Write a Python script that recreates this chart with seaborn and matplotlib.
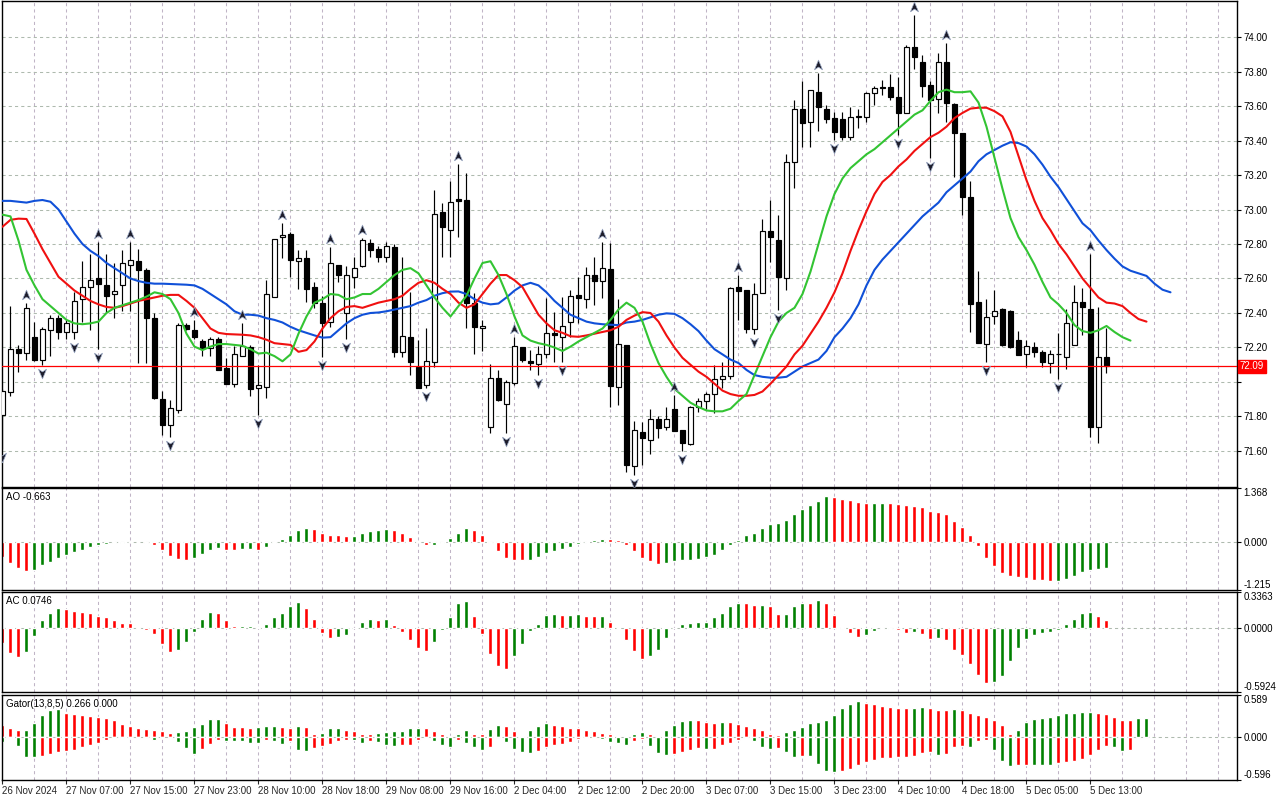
import numpy as np
import matplotlib
matplotlib.use('Agg')
import matplotlib.pyplot as plt
import matplotlib.transforms as mtransforms
from matplotlib.path import Path
import seaborn as sns


GREEN = '#008000'
RED = '#ff0000'
GRID_V = '#c0b4c6'
GRID_H = '#aebaae'
JAW_COLOR = '#1050d8'
TEETH_COLOR = '#f01010'
LIPS_COLOR = '#33c433'
FS = 7

# ── candles (H1) ─────────────────────────────────────────────
open_ = [71.81, 71.94, 72.19, 72.17, 72.26, 72.13, 72.30, 72.37, 72.29, 72.29,
         72.48, 72.55, 72.60, 72.56, 72.51, 72.56, 72.68, 72.70, 72.65, 72.37,
         71.90, 71.75, 71.84, 72.33, 72.30, 72.24, 72.195, 72.25, 72.08, 71.99,
         72.15, 72.205, 71.965, 71.97, 72.49, 72.84, 72.86, 72.70, 72.72, 72.55,
         72.46, 72.35, 72.68, 72.40, 72.61, 72.67, 72.804, 72.771, 72.727, 72.785,
         72.172, 72.259, 72.089, 71.983, 72.118, 72.988, 72.881, 73.061, 73.055, 72.46,
         72.311, 71.741, 72.021, 71.871, 71.992, 72.201, 72.122, 72.104, 72.16, 72.282,
         72.259, 72.35, 72.504, 72.481, 72.62, 72.588, 72.655, 71.969, 72.214, 71.513,
         71.708, 71.664, 71.784, 71.741, 71.842, 71.722, 71.639, 71.853, 71.892, 71.929,
         72.017, 72.037, 72.549, 72.533, 72.307, 72.518, 72.875, 72.823, 72.601, 73.273,
         73.583, 73.509, 73.679, 73.583, 73.532, 73.525, 73.418, 73.538, 73.538, 73.673,
         73.708, 73.708, 73.650, 73.561, 73.940, 73.853, 73.722, 73.639, 73.857, 73.612,
         73.442, 73.071, 72.462, 72.219, 72.383, 72.421, 72.414, 72.244, 72.161, 72.201,
         72.172, 72.108, 72.16, 72.147, 72.215, 72.462, 72.421, 71.741, 72.143]
high_ = [71.96, 72.44, 72.215, 72.46, 72.35, 72.32, 72.39, 72.39, 72.36, 72.52,
         72.70, 72.74, 72.81, 72.74, 72.69, 72.765, 72.81, 72.77, 72.66, 72.40,
         71.95, 71.895, 72.34, 72.34, 72.36, 72.25, 72.26, 72.26, 72.14, 72.21,
         72.34, 72.215, 72.10, 72.59, 72.83, 72.92, 72.87, 72.765, 72.765, 72.58,
         72.50, 72.78, 72.68, 72.67, 72.727, 72.833, 72.827, 72.788, 72.81, 72.80,
         72.723, 72.524, 72.244, 72.311, 73.113, 73.036, 73.167, 73.264, 73.21, 72.514,
         72.36, 72.104, 72.07, 72.012, 72.263, 72.205, 72.186, 72.209, 72.485, 72.408,
         72.495, 72.533, 72.61, 72.669, 72.727, 72.814, 72.804, 72.481, 72.214, 71.776,
         71.770, 71.842, 71.803, 71.857, 71.925, 71.722, 71.861, 71.905, 71.944, 72.098,
         72.118, 72.553, 72.62, 72.533, 72.572, 72.943, 73.055, 72.968, 73.322, 73.635,
         73.747, 73.693, 73.793, 73.604, 73.563, 73.563, 73.592, 73.58, 73.683, 73.716,
         73.751, 73.785, 73.770, 73.954, 74.128, 73.896, 73.745, 73.905, 73.963, 73.615,
         73.442, 73.167, 72.644, 72.479, 72.534, 72.43, 72.418, 72.296, 72.244, 72.23,
         72.186, 72.186, 72.282, 72.421, 72.563, 72.544, 72.742, 72.433, 72.311]
low_ = [71.61, 71.92, 72.06, 72.13, 72.12, 72.10, 72.15, 72.25, 72.25, 72.25,
        72.35, 72.30, 72.19, 72.40, 72.37, 72.41, 72.41, 72.11, 72.11, 71.90,
        71.69, 71.68, 71.82, 72.30, 72.25, 72.15, 72.15, 72.07, 71.99, 71.97,
        72.15, 71.92, 71.81, 71.905, 72.49, 72.72, 72.61, 72.54, 72.465, 72.43,
        72.147, 72.32, 72.58, 72.247, 72.543, 72.668, 72.727, 72.698, 72.694, 72.143,
        72.147, 72.04, 71.963, 71.963, 72.089, 72.723, 72.723, 72.839, 72.311, 72.162,
        72.182, 71.706, 71.892, 71.703, 71.983, 72.118, 72.07, 72.04, 72.137, 72.118,
        72.118, 72.263, 72.34, 72.427, 72.446, 72.485, 71.857, 71.866, 71.48, 71.461,
        71.519, 71.581, 71.673, 71.722, 71.718, 71.602, 71.635, 71.828, 71.842, 71.818,
        71.963, 72.017, 72.359, 72.282, 72.278, 72.514, 72.698, 72.417, 72.533, 73.123,
        73.360, 73.360, 73.457, 73.503, 73.403, 73.403, 73.403, 73.47, 73.509, 73.606,
        73.664, 73.635, 73.432, 73.557, 73.812, 73.650, 73.297, 73.561, 73.509, 73.190,
        72.968, 72.292, 72.224, 72.118, 72.336, 72.209, 72.195, 72.157, 72.089, 72.147,
        72.089, 72.05, 72.016, 72.074, 72.215, 72.273, 71.679, 71.648, 72.05]
close_ = [71.95, 72.19, 72.17, 72.43, 72.13, 72.31, 72.37, 72.29, 72.34, 72.47,
          72.55, 72.59, 72.57, 72.50, 72.53, 72.69, 72.71, 72.65, 72.37, 71.905,
          71.75, 71.85, 72.33, 72.31, 72.26, 72.195, 72.25, 72.07, 71.99, 72.16,
          72.21, 71.96, 71.98, 72.51, 72.83, 72.85, 72.71, 72.72, 72.54, 72.46,
          72.34, 72.69, 72.62, 72.62, 72.66, 72.823, 72.765, 72.727, 72.79, 72.172,
          72.268, 72.118, 71.967, 72.122, 72.974, 72.90, 73.042, 73.051, 72.46, 72.321,
          72.325, 72.021, 71.896, 72.002, 72.211, 72.128, 72.108, 72.16, 72.282, 72.273,
          72.327, 72.50, 72.489, 72.62, 72.588, 72.659, 71.979, 72.218, 71.519, 71.722,
          71.673, 71.784, 71.731, 71.784, 71.718, 71.648, 71.857, 71.892, 71.929, 72.017,
          72.037, 72.543, 72.528, 72.307, 72.508, 72.875, 72.839, 72.61, 73.277, 73.583,
          73.499, 73.693, 73.592, 73.523, 73.451, 73.418, 73.538, 73.540, 73.673, 73.702,
          73.702, 73.650, 73.561, 73.940, 73.882, 73.718, 73.635, 73.857, 73.619, 73.442,
          73.071, 72.452, 72.228, 72.379, 72.412, 72.215, 72.201, 72.157, 72.211, 72.172,
          72.118, 72.161, 72.165, 72.34, 72.462, 72.433, 71.741, 72.143, 72.093]

fractal_up = [3, 12, 16, 24, 30, 35, 41, 45, 57, 64, 75, 84, 92, 102, 114, 118, 136]
fractal_down = [0, 5, 9, 12, 21, 32, 40, 43, 53, 63, 67, 70, 79, 85, 94, 97,
                104, 112, 116, 123, 132]

# ── alligator lines, already shifted (jaw 8, teeth 5, lips 3) ──
jaw = [73.05, 73.05, 73.045, 73.04, 73.05, 73.055, 73.045, 73.0, 72.93, 72.86,
       72.80, 72.76, 72.73, 72.69, 72.66, 72.63, 72.60, 72.585, 72.575, 72.57,
       72.57, 72.568, 72.566, 72.564, 72.56, 72.54, 72.51, 72.48, 72.45, 72.41,
       72.39, 72.39, 72.385, 72.37, 72.36, 72.345, 72.32, 72.30, 72.285, 72.27,
       72.257, 72.26, 72.30, 72.34, 72.37, 72.39, 72.40, 72.403, 72.41, 72.42,
       72.43, 72.44, 72.46, 72.475, 72.50, 72.515, 72.524, 72.525, 72.51, 72.48,
       72.46, 72.45, 72.455, 72.49, 72.53, 72.56, 72.575, 72.56, 72.52, 72.47,
       72.43, 72.39, 72.37, 72.35, 72.34, 72.335, 72.332, 72.33, 72.345, 72.35,
       72.36, 72.375, 72.39, 72.398, 72.395, 72.37, 72.335, 72.295, 72.24, 72.19,
       72.16, 72.13, 72.11, 72.07, 72.04, 72.03, 72.025, 72.025, 72.03, 72.06,
       72.09, 72.11, 72.13, 72.18, 72.26, 72.31, 72.37, 72.45, 72.56, 72.65,
       72.71, 72.76, 72.81, 72.86, 72.91, 72.96, 73.00, 73.04, 73.10, 73.14,
       73.18, 73.22, 73.28, 73.32, 73.345, 73.37, 73.39, 73.385, 73.365, 73.32,
       73.26, 73.19, 73.13, 73.06, 72.99, 72.92, 72.88, 72.82, 72.765, 72.715,
       72.67, 72.645, 72.63, 72.615, 72.57, 72.535, 72.52]
teeth = [72.90, 72.94, 72.947, 72.945, 72.86, 72.77, 72.69, 72.61, 72.57, 72.53,
         72.50, 72.47, 72.45, 72.435, 72.43, 72.44, 72.455, 72.47, 72.48, 72.49,
         72.50, 72.505, 72.505, 72.47, 72.43, 72.37, 72.31, 72.285, 72.278, 72.276,
         72.274, 72.27, 72.26, 72.245, 72.225, 72.22, 72.215, 72.175, 72.185, 72.235,
         72.31, 72.37, 72.41, 72.435, 72.44, 72.43, 72.445, 72.46, 72.47, 72.48,
         72.50, 72.54, 72.575, 72.59, 72.575, 72.54, 72.51, 72.46, 72.43, 72.45,
         72.51, 72.57, 72.62, 72.62, 72.59, 72.55, 72.47, 72.39, 72.34, 72.30,
         72.285, 72.265, 72.262, 72.27, 72.28, 72.29, 72.30, 72.32, 72.36, 72.385,
         72.405, 72.40, 72.35, 72.27, 72.20, 72.14, 72.10, 72.06, 72.03, 71.99,
         71.95, 71.93, 71.92, 71.92, 71.925, 71.945, 71.99, 72.04, 72.09, 72.16,
         72.21, 72.28, 72.35, 72.43, 72.52, 72.63, 72.76, 72.88, 72.99, 73.09,
         73.16, 73.20, 73.25, 73.29, 73.34, 73.38, 73.42, 73.445, 73.48, 73.53,
         73.56, 73.585, 73.59, 73.59, 73.57, 73.54, 73.45, 73.31, 73.17, 73.05,
         72.95, 72.88, 72.80, 72.74, 72.67, 72.60, 72.545, 72.49, 72.46, 72.455,
         72.44, 72.40, 72.365, 72.35]
lips = [72.97, 72.96, 72.82, 72.65, 72.56, 72.48, 72.44, 72.40, 72.36, 72.34,
        72.335, 72.34, 72.35, 72.40, 72.43, 72.445, 72.46, 72.475, 72.495, 72.52,
        72.51, 72.48, 72.40, 72.28, 72.205, 72.185, 72.205, 72.22, 72.22, 72.215,
        72.21, 72.19, 72.165, 72.17, 72.15, 72.12, 72.16, 72.28, 72.38, 72.46,
        72.48, 72.51, 72.505, 72.48, 72.49, 72.51, 72.51, 72.54, 72.58, 72.62,
        72.65, 72.66, 72.63, 72.56, 72.49, 72.43, 72.38, 72.44, 72.50, 72.60,
        72.69, 72.70, 72.62, 72.51, 72.38, 72.27, 72.24, 72.225, 72.215, 72.20,
        72.18, 72.205, 72.235, 72.26, 72.285, 72.31, 72.36, 72.42, 72.46, 72.43,
        72.35, 72.22, 72.11, 72.03, 71.96, 71.92, 71.88, 71.855, 71.835, 71.83,
        71.83, 71.845, 71.89, 71.93, 72.04, 72.15, 72.26, 72.35, 72.40, 72.43,
        72.51, 72.64, 72.80, 72.96, 73.09, 73.18, 73.24, 73.28, 73.32, 73.35,
        73.39, 73.43, 73.47, 73.51, 73.55, 73.575, 73.63, 73.68, 73.695, 73.68,
        73.68, 73.685, 73.62, 73.48, 73.30, 73.12, 72.95, 72.84, 72.765, 72.68,
        72.58, 72.49, 72.45, 72.40, 72.33, 72.295, 72.285, 72.30, 72.325, 72.29,
        72.26, 72.24]

bid_price = 72.09

# ── oscillators ──────────────────────────────────────────────
ao = [-0.38, -0.54, -0.66, -0.74, -0.70, -0.59, -0.51, -0.41, -0.34, -0.25,
      -0.19, -0.13, -0.08, -0.045, -0.03, -0.02, 0.01, -0.01, -0.02, -0.08,
      -0.21, -0.36, -0.42, -0.45, -0.41, -0.31, -0.21, -0.155, -0.19, -0.21,
      -0.17, -0.165, -0.19, -0.13, -0.02, 0.07, 0.17, 0.30, 0.36, 0.32,
      0.23, 0.175, 0.17, 0.145, 0.15, 0.24, 0.27, 0.30, 0.34, 0.31,
      0.24, 0.13, 0.03, -0.07, -0.065, -0.02, 0.09, 0.24, 0.36, 0.31,
      0.19, -0.02, -0.23, -0.41, -0.45, -0.46, -0.45, -0.38, -0.28, -0.23,
      -0.18, -0.13, -0.045, 0.01, 0.045, 0.085, 0.08, 0.045, -0.07, -0.24,
      -0.41, -0.49, -0.55, -0.54, -0.49, -0.46, -0.45, -0.42, -0.39, -0.32,
      -0.21, -0.07, 0.045, 0.17, 0.24, 0.35, 0.45, 0.47, 0.55, 0.71,
      0.83, 0.94, 1.05, 1.164, 1.147, 1.088, 1.062, 1.011, 0.986, 0.99,
      0.995, 0.985, 0.96, 0.935, 0.91, 0.884, 0.782, 0.757, 0.706, 0.528,
      0.375, 0.172, -0.10, -0.405, -0.609, -0.787, -0.863, -0.889, -0.914, -0.957,
      -0.965, -0.99, -0.985, -0.94, -0.863, -0.761, -0.71, -0.685, -0.663]
ac = [-0.136, -0.229, -0.269, -0.223, -0.073, 0.073, 0.138, 0.185, 0.175, 0.157,
      0.153, 0.138, 0.11, 0.10, 0.073, 0.045, 0.044, 0.007, -0.017, -0.058,
      -0.151, -0.223, -0.198, -0.129, -0.036, 0.082, 0.153, 0.144, 0.073, 0.017,
      0.018, 0.019, 0.011, 0.035, 0.10, 0.144, 0.206, 0.24, 0.19, 0.082,
      -0.048, -0.092, -0.083, -0.064, -0.002, 0.06, 0.082, 0.073, 0.083, 0.029,
      -0.036, -0.114, -0.188, -0.213, -0.129, -0.017, 0.10, 0.231, 0.25, 0.113,
      -0.058, -0.235, -0.353, -0.375, -0.26, -0.151, -0.027, 0.035, 0.119, 0.129,
      0.119, 0.122, 0.128, 0.118, 0.113, 0.116, 0.06, -0.002, -0.114, -0.216,
      -0.29, -0.26, -0.198, -0.095, 0.004, 0.042, 0.051, 0.06, 0.062, 0.10,
      0.144, 0.203, 0.237, 0.235, 0.213, 0.215, 0.203, 0.129, 0.135, 0.203,
      0.237, 0.231, 0.259, 0.231, 0.119, 0.007, -0.042, -0.08, -0.064, -0.027,
      -0.008, -0.005, -0.017, -0.042, -0.033, -0.058, -0.104, -0.095, -0.114, -0.198,
      -0.25, -0.328, -0.437, -0.508, -0.496, -0.446, -0.306, -0.185, -0.104, -0.064,
      -0.042, -0.036, -0.017, 0.035, 0.088, 0.138, 0.147, 0.11, 0.0746]
gator_up = [0.174, 0.13, 0.10, 0.105, 0.20, 0.315, 0.376, 0.39, 0.343, 0.329,
            0.315, 0.30, 0.287, 0.263, 0.235, 0.188, 0.16, 0.122, 0.115, 0.103,
            0.094, 0.06, 0.08, 0.094, 0.141, 0.188, 0.258, 0.26, 0.20, 0.146,
            0.136, 0.132, 0.136, 0.15, 0.151, 0.136, 0.135, 0.15, 0.136, 0.047,
            0.06, 0.122, 0.123, 0.103, 0.09, 0.047, 0.046, 0.06, 0.08, 0.082,
            0.094, 0.13, 0.131, 0.128, 0.09, 0.047, 0.02, 0.052, 0.103, 0.052,
            0.047, 0.117, 0.174, 0.16, 0.09, 0.02, 0.103, 0.16, 0.20, 0.174,
            0.16, 0.13, 0.129, 0.103, 0.09, 0.06, 0.047, 0.02, 0.022, 0.047,
            0.075, 0.047, 0.02, 0.103, 0.174, 0.23, 0.245, 0.244, 0.216, 0.20,
            0.216, 0.215, 0.188, 0.16, 0.13, 0.103, 0.047, 0.033, 0.075, 0.103,
            0.146, 0.20, 0.216, 0.244, 0.315, 0.413, 0.47, 0.50, 0.484, 0.47,
            0.44, 0.428, 0.414, 0.413, 0.414, 0.415, 0.413, 0.385, 0.384, 0.40,
            0.385, 0.343, 0.315, 0.287, 0.244, 0.174, 0.047, 0.103, 0.216, 0.26,
            0.273, 0.287, 0.315, 0.343, 0.344, 0.357, 0.358, 0.343, 0.329, 0.287,
            0.244, 0.243, 0.273, 0.274]
gator_down = [0.07, 0.01, 0.12, 0.275, 0.282, 0.26, 0.235, 0.20, 0.198, 0.174,
              0.141, 0.103, 0.075, 0.033, 0.005, 0.004, 0.003, 0.002, 0.0015, 0.033,
              0.002, 0.001, 0.06, 0.155, 0.235, 0.165, 0.094, 0.033, 0.047, 0.048,
              0.05, 0.08, 0.082, 0.033, 0.047, 0.094, 0.047, 0.174, 0.188, 0.155,
              0.127, 0.094, 0.047, 0.033, 0.035, 0.08, 0.047, 0.06, 0.103, 0.117,
              0.115, 0.103, 0.033, 0.01, 0.047, 0.103, 0.13, 0.033, 0.08, 0.13,
              0.174, 0.13, 0.003, 0.06, 0.165, 0.20, 0.22, 0.188, 0.13, 0.103,
              0.10, 0.06, 0.024, 0.01, 0.005, 0.024, 0.06, 0.08, 0.103, 0.047,
              0.024, 0.117, 0.22, 0.25, 0.235, 0.20, 0.174, 0.15, 0.165, 0.164,
              0.103, 0.08, 0.033, 0.005, 0.047, 0.13, 0.165, 0.15, 0.20, 0.27,
              0.26, 0.262, 0.376, 0.47, 0.484, 0.47, 0.44, 0.385, 0.343, 0.315,
              0.287, 0.286, 0.273, 0.272, 0.26, 0.216, 0.20, 0.245, 0.23, 0.13,
              0.117, 0.13, 0.047, 0.033, 0.174, 0.33, 0.40, 0.385, 0.384, 0.386,
              0.387, 0.388, 0.357, 0.343, 0.33, 0.30, 0.245, 0.174, 0.117, 0.13,
              0.188, 0.174]

time_labels = ['26 Nov 2024', '27 Nov 07:00', '27 Nov 15:00', '27 Nov 23:00',
               '28 Nov 10:00', '28 Nov 18:00', '29 Nov 08:00', '29 Nov 16:00',
               '2 Dec 04:00', '2 Dec 12:00', '2 Dec 20:00', '3 Dec 07:00',
               '3 Dec 15:00', '3 Dec 23:00', '4 Dec 10:00', '4 Dec 18:00',
               '5 Dec 05:00', '5 Dec 13:00']
price_ticks = [71.6, 71.8, 72.0, 72.2, 72.4, 72.6, 72.8, 73.0, 73.2, 73.4,
               73.6, 73.8, 74.0]
ao_range = (-1.215, 1.368)
ac_range = (-0.5924, 0.3363)
gator_range = (-0.596, 0.589)


def updown_colors(vals, first=RED):
    cols = []
    prev = None
    for v in vals:
        cols.append(first if prev is None else (GREEN if v > prev else RED))
        prev = v
    return cols


def style_panel(ax):
    ax.set_xlim(-0.06, 154.25)
    for s in ax.spines.values():
        s.set_color('black')
        s.set_linewidth(1.0)
    for x in range(4, 155, 4):
        ax.axvline(x, color=GRID_V, lw=0.75, ls=(0, (3, 3)), zorder=0)
    ax.set_xticks([])
    ax.set_xlabel('')
    ax.set_ylabel('')
    ax.yaxis.tick_right()
    ax.tick_params(axis='y', direction='out', length=3, width=0.8,
                   labelsize=FS, pad=2, colors='black')


def sub_panel(ax, vals_range, labels, title):
    ax.set_ylim(*vals_range)
    ax.axhline(0, color=GRID_H, lw=0.75, ls=(0, (3, 3)), zorder=0)
    ax.set_yticks([vals_range[0], 0, vals_range[1]])
    ax.set_yticklabels(labels)
    tl = ax.get_yticklabels()
    tl[0].set_va('bottom')
    tl[2].set_va('top')
    ax.annotate(title, xy=(0, 1), xycoords='axes fraction', xytext=(4, -9),
                textcoords='offset pixels', ha='left', va='center',
                fontsize=FS, color='black')


sns.set_style('white')
plt.rcParams['font.family'] = ['Liberation Sans', 'DejaVu Sans']

fig = plt.figure(figsize=(12.8, 8), dpi=100)
left = 2 / 1280
width = 1234.5 / 1280
ax_main = fig.add_axes([left, 1 - 487 / 800, width, 486 / 800])
ax_ao = fig.add_axes([left, 1 - 590 / 800, width, 102 / 800])
ax_ac = fig.add_axes([left, 1 - 692 / 800, width, 100 / 800])
ax_gt = fig.add_axes([left, 1 - 780 / 800, width, 85 / 800])

n = len(close_)
idx = np.arange(n)
o = np.array(open_)
c = np.array(close_)
h = np.array(high_)
l = np.array(low_)

# ── main price panel ─────────────────────────────────────────
style_panel(ax_main)
ax_main.set_ylim(71.3913, 74.2087)
ax_main.set_yticks(price_ticks)
ax_main.set_yticklabels(['' if abs(p - 72.0) < 1e-9 else f'{p:.2f}' for p in price_ticks])
ax_main.grid(axis='y', color=GRID_H, lw=0.75, ls=(0, (3, 3)), zorder=0)
ax_main.set_axisbelow(True)

ax_main.vlines(idx, l, h, color='black', lw=0.85, zorder=2)
body_bottom = np.minimum(o, c)
body_height = np.maximum(np.abs(c - o), 0.004)
body_face = np.where(c >= o, 'white', 'black')
ax_main.bar(idx, body_height, bottom=body_bottom, width=0.55, color=body_face,
            edgecolor='black', linewidth=0.85, zorder=3)

sns.lineplot(x=np.arange(len(jaw)), y=jaw, color=JAW_COLOR, lw=1.5, ax=ax_main, zorder=4)
sns.lineplot(x=np.arange(len(teeth)), y=teeth, color=TEETH_COLOR, lw=1.5, ax=ax_main, zorder=4)
sns.lineplot(x=np.arange(len(lips)), y=lips, color=LIPS_COLOR, lw=1.5, ax=ax_main, zorder=4)

ax_main.axhline(bid_price, color=RED, lw=0.9, zorder=5)
ax_main.text(1.0025, bid_price, f'{bid_price:.2f}',
             transform=mtransforms.blended_transform_factory(ax_main.transAxes, ax_main.transData),
             ha='left', va='center', fontsize=FS, color='white', zorder=10, clip_on=False,
             bbox=dict(boxstyle='square,pad=0.2', fc=RED, ec=RED))

up_path = Path([(0, 1), (0.75, -0.8), (0, -0.3), (-0.75, -0.8), (0, 1)],
               [Path.MOVETO, Path.LINETO, Path.LINETO, Path.LINETO, Path.CLOSEPOLY])
down_path = Path([(0, -1), (0.75, 0.8), (0, 0.3), (-0.75, 0.8), (0, -1)],
                 [Path.MOVETO, Path.LINETO, Path.LINETO, Path.LINETO, Path.CLOSEPOLY])
trans_up = mtransforms.offset_copy(ax_main.transData, fig=fig, y=8, units='dots')
trans_dn = mtransforms.offset_copy(ax_main.transData, fig=fig, y=-8, units='dots')
ax_main.scatter(fractal_up, h[fractal_up], marker=up_path, s=60, color='#1c1c2a',
                edgecolors='#9aa8c4', linewidths=0.5, transform=trans_up, zorder=6)
ax_main.scatter(fractal_down, l[fractal_down], marker=down_path, s=60, color='#1c1c2a',
                edgecolors='#9aa8c4', linewidths=0.5, transform=trans_dn, zorder=6)
ax_main.set_xlim(-0.06, 154.25)
ax_main.set_ylim(71.3913, 74.2087)
ax_main.set_xlabel('')
ax_main.set_ylabel('')

# ── AO ───────────────────────────────────────────────────────
style_panel(ax_ao)
ax_ao.bar(np.arange(len(ao)), ao, width=0.5, color=updown_colors(ao), zorder=2)
sub_panel(ax_ao, ao_range, ['-1.215', '0.000', '1.368'], f'AO {ao[-1]:.3f}')

# ── AC ───────────────────────────────────────────────────────
style_panel(ax_ac)
ax_ac.bar(np.arange(len(ac)), ac, width=0.5, color=updown_colors(ac), zorder=2)
sub_panel(ax_ac, ac_range, ['-0.5924', '0.0000', '0.3363'], f'AC {ac[-1]:.4f}')

# ── Gator ────────────────────────────────────────────────────
style_panel(ax_gt)
ax_gt.bar(np.arange(len(gator_up)), gator_up, width=0.5,
          color=updown_colors(gator_up), zorder=2)
ax_gt.bar(np.arange(len(gator_down)), -np.array(gator_down), width=0.5,
          color=updown_colors(gator_down, first=GREEN), zorder=2)
sub_panel(ax_gt, gator_range, ['-0.596', '0.000', '0.589'], 'Gator(13,8,5) 0.266 0.000')

label_pos = list(range(0, 8 * len(time_labels), 8))
ax_gt.set_xticks(label_pos)
ax_gt.set_xticklabels(time_labels, fontsize=FS)
for lbl in ax_gt.get_xticklabels():
    lbl.set_ha('left')
ax_gt.tick_params(axis='x', direction='out', length=3, width=0.8, pad=1.5, bottom=True)
ax_gt.set_xlim(-0.06, 154.25)

fig.savefig('out.png', dpi=100, facecolor='white')
